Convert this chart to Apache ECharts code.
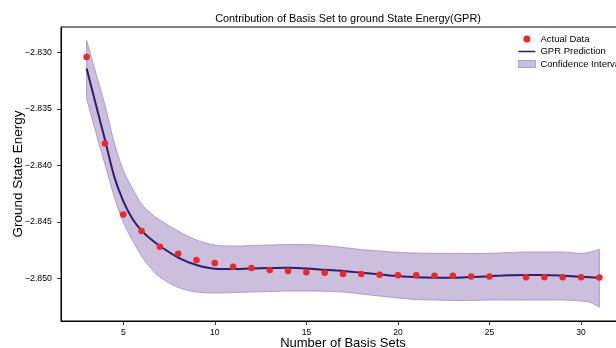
<!DOCTYPE html>
<html>
<head>
<meta charset="utf-8">
<script src="https://cdn.jsdelivr.net/npm/echarts@6/dist/echarts.min.js"></script>
<style>
html,body{margin:0;padding:0;background:#fff;}
#c{width:616px;height:348px;}
</style>
</head>
<body>
<div id="c"></div>
<script>
// ---- data ----
const xPoints = [3,4,5,6,7,8,9,10,11,12,13,14,15,16,17,18,19,20,21,22,23,24,25,27,28,29,30,31];
const yPoints = [-2.83039,-2.83805,-2.84434,-2.84581,-2.84721,-2.84782,-2.84838,-2.84865,-2.84897,-2.84909,-2.84927,-2.84935,-2.84947,-2.84951,-2.84962,-2.84962,-2.84968,-2.84973,-2.84973,-2.84977,-2.84977,-2.84984,-2.84984,-2.84991,-2.84991,-2.84991,-2.84991,-2.84993];

const xCurve = [3,3.5,4,4.5,5,5.5,6,6.5,7,8,9,10,11,12,13,14,15,16,17,18,19,20,21,22,23,24,25,26,27,28,29,30,30.5,31];
const meanCurve = [-2.83142,-2.83458,-2.83772,-2.84095,-2.84316,-2.84472,-2.84577,-2.84652,-2.84714,-2.84816,-2.84882,-2.84915,-2.84918,-2.84912,-2.84909,-2.84906,-2.84912,-2.84925,-2.84935,-2.84950,-2.84965,-2.84980,-2.84991,-2.84995,-2.84995,-2.84989,-2.84982,-2.84973,-2.84971,-2.84971,-2.84977,-2.84986,-2.84991,-2.84997];
const upperCurve = [-2.82894,-2.83179,-2.83466,-2.83794,-2.84042,-2.84204,-2.84342,-2.84422,-2.84484,-2.84581,-2.84661,-2.84705,-2.84714,-2.84710,-2.84705,-2.84701,-2.84701,-2.84710,-2.84727,-2.84745,-2.84758,-2.84770,-2.84776,-2.84779,-2.84779,-2.84781,-2.84779,-2.84772,-2.84767,-2.84767,-2.84767,-2.84779,-2.84767,-2.84743];
const lowerCurve = [-2.83407,-2.83705,-2.83989,-2.84272,-2.84502,-2.84661,-2.84803,-2.84909,-2.84989,-2.85081,-2.85121,-2.85130,-2.85126,-2.85121,-2.85117,-2.85112,-2.85112,-2.85115,-2.85121,-2.85139,-2.85157,-2.85174,-2.85188,-2.85192,-2.85196,-2.85196,-2.85192,-2.85192,-2.85192,-2.85192,-2.85192,-2.85201,-2.85214,-2.85256];

const xTicks = [5,10,15,20,25,30];
const yTicks = [-2.850,-2.845,-2.840,-2.835,-2.830];

const title = 'Contribution of Basis Set to ground State Energy(GPR)';
const xName = 'Number of Basis Sets';
const yName = 'Ground State Energy';
const names = ['Actual Data','GPR Prediction','Confidence Interval'];

// ---- styles ----
const FONT = "'Liberation Sans',Arial,sans-serif";
const bandFill = '#cbbfdd';
const bandEdge = '#a08ac6';
const lineColor = '#2d1e6b';
const dotColor = '#e8282b';

const pts = xPoints.map((x,i)=>[x,yPoints[i]]);
const meanData = xCurve.map((x,i)=>[x,meanCurve[i]]);

// smooth a pixel-space polyline (Catmull-Rom)
function smoothPts(p, segs){
  const out=[]; const n=p.length;
  for(let i=0;i<n-1;i++){
    const p0=p[Math.max(i-1,0)], p1=p[i], p2=p[i+1], p3=p[Math.min(i+2,n-1)];
    for(let s=0;s<segs;s++){
      const t=s/segs, t2=t*t, t3=t2*t;
      const f=(a,b,c,d)=>0.5*((2*b)+(-a+c)*t+(2*a-5*b+4*c-d)*t2+(-a+3*b-3*c+d)*t3);
      out.push([f(p0[0],p1[0],p2[0],p3[0]), f(p0[1],p1[1],p2[1],p3[1])]);
    }
  }
  out.push(p[n-1]);
  return out;
}

function renderBand(params, api){
  if(params.dataIndex!==0) return null;
  const up = xCurve.map((x,i)=>api.coord([x,upperCurve[i]]));
  const lo = xCurve.map((x,i)=>api.coord([x,lowerCurve[i]]));
  const upS = smoothPts(up,8);
  const loS = smoothPts(lo,8).reverse();
  return {
    type:'polygon',
    shape:{points:upS.concat(loS)},
    style:{fill:bandFill, stroke:bandEdge, lineWidth:0.8}
  };
}

const chart = echarts.init(document.getElementById('c'), null, {renderer:'canvas'});
chart.setOption({
  animation:false,
  backgroundColor:'#ffffff',
  textStyle:{fontFamily:FONT},
  title:{
    text:title, left:343, top:8, textAlign:'center',
    textStyle:{fontFamily:FONT,fontSize:10.9,fontWeight:'normal',color:'#000'}
  },
  legend:{
    orient:'vertical', left:513, top:28,
    itemWidth:17, itemHeight:7, itemGap:0.5,
    textStyle:{fontFamily:FONT,fontSize:9.5,color:'#000',lineHeight:12},
    data:[
      {name:names[0], icon:'circle', itemStyle:{color:dotColor}},
      {name:names[1], icon:'path://M0,0 L0.01,0 L0.01,0.01 Z M0,2.6 L20,2.6 L20,4.4 L0,4.4 Z M0,7 L0.01,7 L0.01,6.99 Z', itemStyle:{color:lineColor}},
      {name:names[2], icon:'rect', itemStyle:{color:bandFill,borderColor:bandEdge,borderWidth:0.8}}
    ]
  },
  grid:{left:61, top:27, right:-9, bottom:27, show:true, borderColor:'#000', borderWidth:1, backgroundColor:'#fff', outerBoundsMode:'none', containLabel:false},
  xAxis:{
    type:'value', min:1.6, max:32.4,
    name:xName, nameLocation:'middle', nameGap:16, nameMoveOverlap:false,
    nameTextStyle:{fontFamily:FONT,fontSize:13,color:'#000'},
    axisLine:{show:true,lineStyle:{color:'#000',width:1}},
    axisTick:{show:true,inside:false,length:4,customValues:xTicks,lineStyle:{color:'#000',width:0.8}},
    axisLabel:{customValues:xTicks,margin:7,fontFamily:FONT,fontSize:8.5,color:'#000'},
    splitLine:{show:false}
  },
  yAxis:{
    type:'value', min:-2.85378, max:-2.82774,
    name:yName, nameLocation:'middle', nameGap:36, nameRotate:90, nameMoveOverlap:false,
    nameTextStyle:{fontFamily:FONT,fontSize:13.5,color:'#000'},
    axisLine:{show:true,lineStyle:{color:'#000',width:1}},
    axisTick:{show:true,inside:false,length:4,customValues:yTicks,lineStyle:{color:'#000',width:0.8}},
    axisLabel:{customValues:yTicks,margin:9,fontFamily:FONT,fontSize:8.8,color:'#000',
      formatter:v=>'\u2212'+Math.abs(v).toFixed(3)},
    splitLine:{show:false}
  },
  series:[
    {
      name:names[2], type:'custom', coordinateSystem:'cartesian2d',
      data:[[xCurve[0],upperCurve[0]]], encode:{x:0,y:1},
      renderItem:renderBand, silent:true, clip:true, z:1,
      itemStyle:{color:bandFill}
    },
    {
      name:names[1], type:'line', data:meanData, smooth:0.3,
      symbol:'none', lineStyle:{color:lineColor,width:2}, itemStyle:{color:lineColor}, z:3
    },
    {
      name:names[0], type:'scatter', data:pts, symbol:'circle', symbolSize:6.5,
      itemStyle:{color:dotColor,opacity:1}, z:4
    }
  ]
});
</script>
</body>
</html>
